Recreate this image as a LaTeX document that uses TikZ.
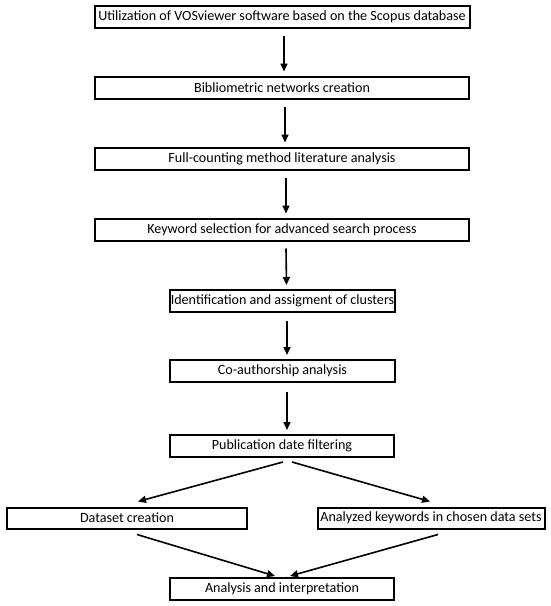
\documentclass[tikz,border=0pt]{standalone}
\usepackage{fontspec}
\setmainfont{Carlito}
\usetikzlibrary{arrows.meta,calc}
\begin{document}
\begin{tikzpicture}[x=1pt,y=-1pt,
  box/.style={draw=black,line width=2pt,rectangle,inner sep=0pt,minimum height=22pt,font=\fontsize{14.1}{15}\selectfont,text=black},
  arr/.style={line width=1.6pt,-{Triangle[length=8pt,width=7pt]}}]
\useasboundingbox (0,0) rectangle (550,606);
\node[box,minimum width=375pt] (b1) at (282,16.5) {Utilization of VOSviewer software based on the Scopus database};
\node[box,minimum width=374pt] (b2) at (282,87.5) {Bibliometric networks creation};
\node[box,minimum width=374pt] (b3) at (282,158.5) {Full-counting method literature analysis};
\node[box,minimum width=374pt] (b4) at (282,229.5) {Keyword selection for advanced search process};
\node[box,minimum width=225pt] (b5) at (282.5,301) {Identification and assigment of clusters};
\node[box,minimum width=225pt] (b6) at (282.5,371) {Co-authorship analysis};
\node[box,minimum width=224pt] (b7) at (282,446) {Publication date filtering};
\node[box,minimum width=240pt,minimum height=21pt] (b8) at (127,518) {Dataset creation};
\node[box,minimum width=227pt,minimum height=21pt] (b9) at (431,518) {Analyzed keywords in chosen data sets};
\node[box,minimum width=224pt] (b10) at (282,589) {Analysis and interpretation};
\draw[arr] ($(b1.south)+(2,7)$) -- ($(b2.north)+(2,-4)$);
\draw[arr] ($(b2.south)+(3,7)$) -- ($(b3.north)+(3,-4)$);
\draw[arr] ($(b3.south)+(4,7)$) -- ($(b4.north)+(4,-4)$);
\draw[arr] ($(b4.south)+(4,7)$) -- ($(b5.north)+(4,-4)$);
\draw[arr] ($(b5.south)+(4.5,8)$) -- ($(b6.north)+(4.5,-4)$);
\draw[arr] ($(b6.south)+(4.5,9)$) -- ($(b7.north)+(5,-4)$);
\draw[arr] ($(b7.south)+(1,4)$) -- ($(b8.north)+(11,-5)$);
\draw[arr] ($(b7.south)+(10,4)$) -- ($(b9.north)+(-1,-5)$);
\draw[arr] ($(b8.south)+(10,5)$) -- ($(b10.north)+(-7,-1)$);
\draw[arr] ($(b9.south)+(7,5)$) -- ($(b10.north)+(8,-1)$);
\end{tikzpicture}
\end{document}
